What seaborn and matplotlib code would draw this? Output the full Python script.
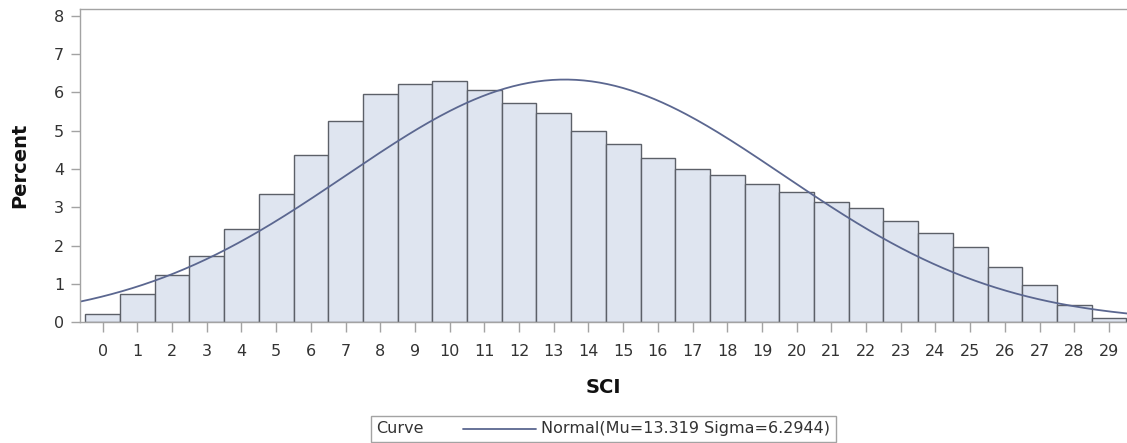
import numpy as np
import pandas as pd
import matplotlib
matplotlib.use("Agg")
import matplotlib.pyplot as plt
import seaborn as sns
from matplotlib.offsetbox import AnchoredOffsetbox, HPacker, TextArea, DrawingArea
from matplotlib.lines import Line2D

# ---- data ----
sci_values = list(range(30))
percent = [0.21, 0.74, 1.23, 1.74, 2.44, 3.35, 4.36, 5.26, 5.95, 6.23,
           6.30, 6.07, 5.72, 5.46, 4.99, 4.66, 4.28, 4.01, 3.85, 3.62,
           3.41, 3.14, 2.98, 2.65, 2.34, 1.97, 1.44, 0.97, 0.44, 0.10]
y_ticks = [0, 1, 2, 3, 4, 5, 6, 7, 8]
x_ticks = list(range(30))
normal_mu = 13.319
normal_sigma = 6.2944
legend_title = "Curve"
legend_label = f"Normal(Mu={normal_mu} Sigma={normal_sigma})"

sns.set_style("white")
plt.rcParams['font.family'] = ['DejaVu Sans']

BAR_FILL = "#dfe5f0"
BAR_EDGE = "#5c6068"
CURVE = "#5b6790"
FRAME = "#a3a3a3"
TEXT = "#333333"

fig = plt.figure(figsize=(11.27, 4.43), dpi=100)
ax = fig.add_axes([80 / 1127, 1 - 322.3 / 443, 1 - 80 / 1127, (322.3 - 9) / 443])

df = pd.DataFrame({"SCI": sci_values, "Percent": percent})
sns.histplot(data=df, x="SCI", weights="Percent", discrete=True, stat="count",
             color=BAR_FILL, edgecolor=BAR_EDGE, linewidth=1.0, alpha=1.0, ax=ax)

xmin, xmax = -0.654, 29.52
xg = np.linspace(xmin, xmax, 400)
dens = 100.0 / (normal_sigma * np.sqrt(2 * np.pi)) * np.exp(-0.5 * ((xg - normal_mu) / normal_sigma) ** 2)
sns.lineplot(x=xg, y=dens, color=CURVE, linewidth=1.3, ax=ax, legend=False)

ax.set_xlim(xmin, xmax)
ax.set_ylim(0, 8.18)
ax.set_xticks(x_ticks)
ax.set_xticklabels([str(v) for v in x_ticks])
ax.set_yticks(y_ticks)
ax.set_yticklabels([str(v) for v in y_ticks])

for side in ["left", "top", "bottom", "right"]:
    ax.spines[side].set_color(FRAME)
    ax.spines[side].set_linewidth(1.0)
ax.spines["right"].set_visible(False)

ax.tick_params(axis="x", length=7.5, width=1.0, color=FRAME, pad=8,
               labelsize=11.5, labelcolor=TEXT, direction="out", bottom=True)
ax.tick_params(axis="y", length=6.5, width=1.0, color=FRAME, pad=5,
               labelsize=11.5, labelcolor=TEXT, direction="out", left=True)

ax.set_xlabel("SCI", fontsize=14, fontweight="bold", color="#111111")
ax.set_ylabel("Percent", fontsize=14, fontweight="bold", color="#111111")
ax.xaxis.set_label_coords(0.5, (322.3 - 387.5) / 313.3)
ax.xaxis.label.set_va("center")
ax.yaxis.set_label_coords((20 - 80) / 1047, 0.5)
ax.yaxis.label.set_va("center")

# ---- legend: "Curve" label, line sample, description in one bordered row ----
fs = 11.5
t_title = TextArea(legend_title, textprops=dict(fontsize=fs, color=TEXT))
line_len = 52.5  # points
da = DrawingArea(line_len, 8, 0, 0)
da.add_artist(Line2D([0, line_len], [4, 4], color=CURVE, linewidth=1.3))
t_label = TextArea(legend_label, textprops=dict(fontsize=fs, color=TEXT))
inner = HPacker(children=[da, t_label], align="center", pad=0, sep=4)
row = HPacker(children=[t_title, inner], align="center", pad=0, sep=28)
box = AnchoredOffsetbox(loc="lower center", child=row, pad=0.4, borderpad=0,
                        frameon=True, bbox_to_anchor=(0.5355, 0.003),
                        bbox_transform=fig.transFigure)
box.patch.set_boxstyle("square", pad=0)
box.patch.set_edgecolor(FRAME)
box.patch.set_facecolor("white")
box.patch.set_linewidth(1.0)
fig.add_artist(box)

fig.savefig("out.png", dpi=100)
